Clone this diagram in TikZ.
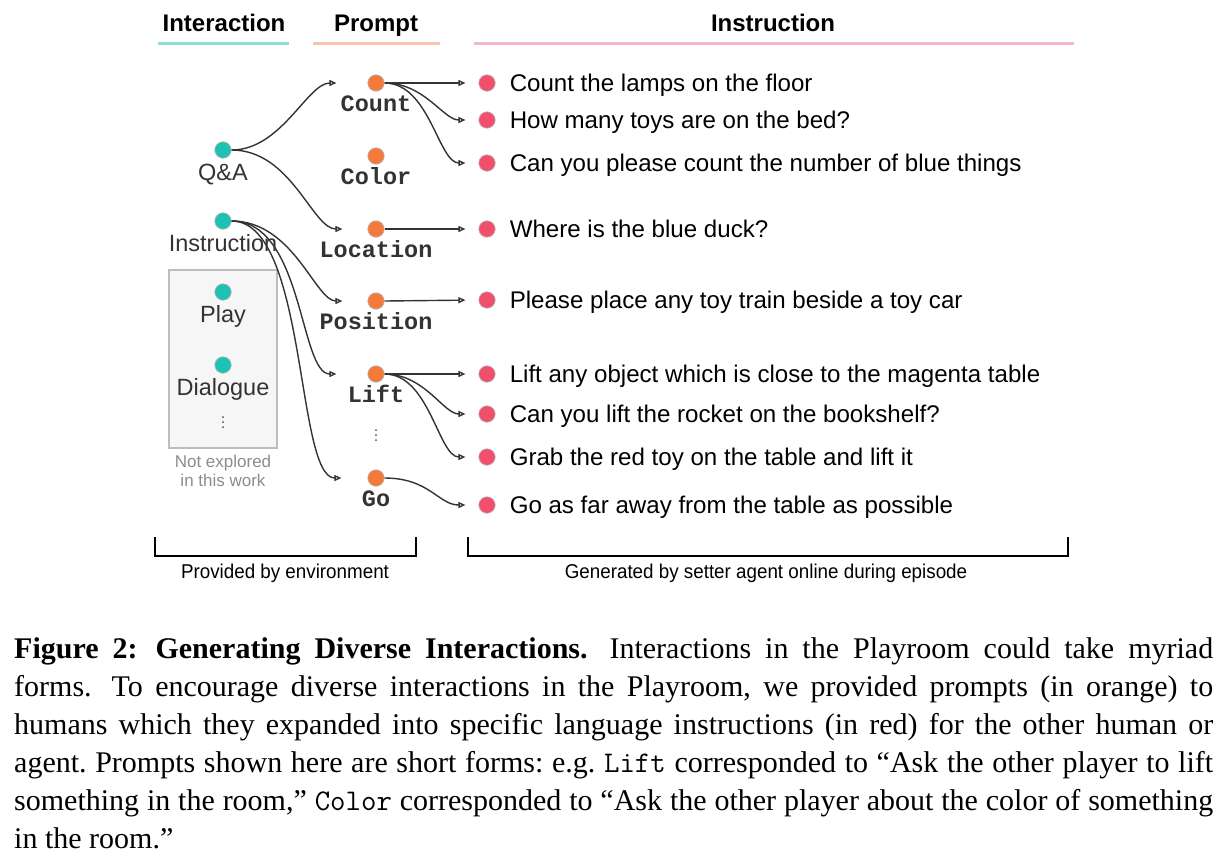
\documentclass[tikz,border=0pt]{standalone}
\usepackage{fontspec}
\setmainfont{Liberation Serif}
\newfontfamily\sansfont{Liberation Sans}
\newfontfamily\narrowfont[FakeStretch=0.94]{Liberation Sans}
\newfontfamily\promptfont{Liberation Mono}
\usepackage{tikz}
\usetikzlibrary{arrows.meta, positioning}
\usepackage{xcolor}
\definecolor{pgteal}{HTML}{1FC2B2}
\definecolor{pgorange}{HTML}{F47A3C}
\definecolor{pgred}{HTML}{F0506C}
\definecolor{pgtealline}{HTML}{8FDDD6}
\definecolor{pgorangeline}{HTML}{F9C4AA}
\definecolor{pgpinkline}{HTML}{F6B8C4}
\definecolor{pgbox}{HTML}{F6F6F6}
\definecolor{pgboxline}{HTML}{BDBDBD}
\definecolor{pgarrow}{HTML}{333333}

\begin{document}
\begin{tikzpicture}[
    x=1pt, y=-1pt,
    dot/.style={circle, inner sep=0pt, minimum size=16.5pt, draw=gray!55, line width=0.6pt},
    intdot/.style={dot, fill=pgteal},
    promptdot/.style={dot, fill=pgorange},
    instdot/.style={dot, fill=pgred},
    header/.style={font=\fontsize{24}{26}\sansfont\bfseries, inner sep=0pt, text height=17pt, text depth=0pt},
    intlabel/.style={font=\fontsize{23.5}{26}\sansfont, text=black!80, inner sep=0pt, text height=17pt, text depth=5pt},
    promptlabel/.style={font=\fontsize{23.5}{26}\promptfont\bfseries, text=black!80, inner sep=0pt, text height=13.5pt, text depth=4pt},
    insttext/.style={font=\fontsize{24.1}{26}\sansfont, anchor=west, inner sep=0pt, text height=17pt, text depth=0pt},
    note/.style={font=\fontsize{17}{19}\sansfont, text=black!45, align=center, inner sep=0pt},
    brace/.style={font=\fontsize{20}{21}\narrowfont, inner sep=0pt},
    more/.style={inner sep=0pt, minimum width=3pt, minimum height=14pt,
      path picture={\foreach \d in {-5,0,5} \fill[black!70] ([yshift=\d pt]path picture bounding box.center) circle (1pt);}},
    arrow/.style={-{Triangle[open, length=7pt, width=6pt]}, line width=1.4pt, draw=pgarrow},
    toprompt/.style={arrow, shorten >=27pt},
    toinst/.style={arrow, shorten >=13pt}
  ]
  \useasboundingbox (0,0) rectangle (1229,860);

  % column headers
  \node[header] (hint) at (224,23) {Interaction};
  \node[header] (hprompt) at (376,23) {Prompt};
  \node[header] (hinst) at (773,23) {Instruction};
  \draw[pgtealline, line width=3pt] (158,43) -- (289,43);
  \draw[pgorangeline, line width=3pt] (313,43) -- (440,43);
  \draw[pgpinkline, line width=3pt] (474,43) -- (1074,43);

  % interactions
  \node[draw=pgboxline, fill=pgbox, line width=1.2pt, minimum width=108pt, minimum height=178pt] (unexplored) at (223,359) {};
  \node[intdot] (qa) at (223,150) {};
  \node[intlabel, below=5pt of qa] (qalab) {Q\&A};
  \node[intdot] (instr) at (223,221) {};
  \node[intlabel, below=5pt of instr] (instrlab) {Instruction};
  \node[intdot] (play) at (223,292) {};
  \node[intlabel, below=5pt of play] (playlab) {Play};
  \node[intdot] (dialogue) at (223,365) {};
  \node[intlabel, below=5pt of dialogue] (dialoguelab) {Dialogue};
  \node[more] (intmore) at (223,422) {};
  \node[note, below=6pt of unexplored] (notelab) {Not explored\\in this work};

  % prompts
  \node[promptdot] (count) at (376,83) {};
  \node[promptlabel, below=6pt of count] (countlab) {Count};
  \node[promptdot] (color) at (376,156) {};
  \node[promptlabel, below=6pt of color] (colorlab) {Color};
  \node[promptdot] (location) at (376,229) {};
  \node[promptlabel, below=6pt of location] (locationlab) {Location};
  \node[promptdot] (position) at (376,301) {};
  \node[promptlabel, below=6pt of position] (positionlab) {Position};
  \node[promptdot] (lift) at (376,374) {};
  \node[promptlabel, below=6pt of lift] (liftlab) {Lift};
  \node[more] (promptmore) at (376,435) {};
  \node[promptdot] (go) at (376,478) {};
  \node[promptlabel, below=6pt of go] (golab) {Go};

  % instructions
  \node[instdot] (i1) at (487,83) {};
  \node[insttext, right=14pt of i1] (t1) {Count the lamps on the floor};
  \node[instdot] (i2) at (487,120) {};
  \node[insttext, right=14pt of i2] (t2) {How many toys are on the bed?};
  \node[instdot] (i3) at (487,163) {};
  \node[insttext, right=14pt of i3] (t3) {Can you please count the number of blue things};
  \node[instdot] (i4) at (487,229) {};
  \node[insttext, right=14pt of i4] (t4) {Where is the blue duck?};
  \node[instdot] (i5) at (487,300) {};
  \node[insttext, right=14pt of i5] (t5) {Please place any toy train beside a toy car};
  \node[instdot] (i6) at (487,374) {};
  \node[insttext, right=14pt of i6] (t6) {Lift any object which is close to the magenta table};
  \node[instdot] (i7) at (487,414) {};
  \node[insttext, right=14pt of i7] (t7) {Can you lift the rocket on the bookshelf?};
  \node[instdot] (i8) at (487,457) {};
  \node[insttext, right=14pt of i8] (t8) {Grab the red toy on the table and lift it};
  \node[instdot] (i9) at (487,505) {};
  \node[insttext, right=14pt of i9] (t9) {Go as far away from the table as possible};

  % interaction -> prompt
  \draw[toprompt, shorten >=31pt] (qa.east) .. controls +(50,0) and +(-60,0) .. (count.west);
  \draw[toprompt, shorten >=25pt] (qa.east) .. controls +(60,0) and +(-55,0) .. (location.west);
  \draw[toprompt, shorten >=25pt] (instr.east) .. controls +(62,0) and +(-52,0) .. (position.west);
  \draw[toprompt, shorten >=31pt] (instr.east) .. controls +(72,0) and +(-68,0) .. (lift.west);
  \draw[toprompt, shorten >=26pt] (instr.east) .. controls +(76,0) and +(-72,0) .. (go.west);

  % prompt -> instruction
  \draw[toinst] (count.east) -- (i1.west);
  \draw[toinst] (count.east) .. controls +(40,0) and +(-35,0) .. (i2.west);
  \draw[toinst] (count.east) .. controls +(45,0) and +(-40,0) .. (i3.west);
  \draw[toinst] (location.east) -- (i4.west);
  \draw[toinst] (position.east) -- (i5.west);
  \draw[toinst] (lift.east) -- (i6.west);
  \draw[toinst] (lift.east) .. controls +(40,0) and +(-35,0) .. (i7.west);
  \draw[toinst] (lift.east) .. controls +(45,0) and +(-40,0) .. (i8.west);
  \draw[toinst] (go.east) .. controls +(45,0) and +(-40,0) .. (i9.west);

  % brackets
  \draw[line width=2pt] (155,537) -- (155,556) -- (416,556) -- (416,537);
  \draw[line width=2pt] (468,537) -- (468,556) -- (1068,556) -- (1068,537);
  \node[brace] (envlab) at (285,573) {Provided by environment};
  \node[brace] (setterlab) at (766,573) {Generated by setter agent online during episode};

  % caption
  \node[anchor=north west, inner sep=0pt, text width=1199pt, align=justify, font=\fontsize{30}{38}\selectfont\frenchspacing] (caption) at (14,637) {\textbf{Figure 2:\hspace{18pt}Generating Diverse Interactions.}\hspace{22pt}Interactions in the Playroom could take myriad\linebreak
forms.\hspace{20pt}To encourage diverse interactions in the Playroom, we provided prompts (in orange) to\linebreak
humans which they expanded into specific language instructions (in red) for the other human or\linebreak
agent. Prompts shown here are short forms: e.g. \texttt{Lift} corresponded to ``Ask the other player to lift\linebreak
something in the room,'' \texttt{Color} corresponded to ``Ask the other player about the color of something\linebreak
in the room.''};
\end{tikzpicture}
\end{document}
